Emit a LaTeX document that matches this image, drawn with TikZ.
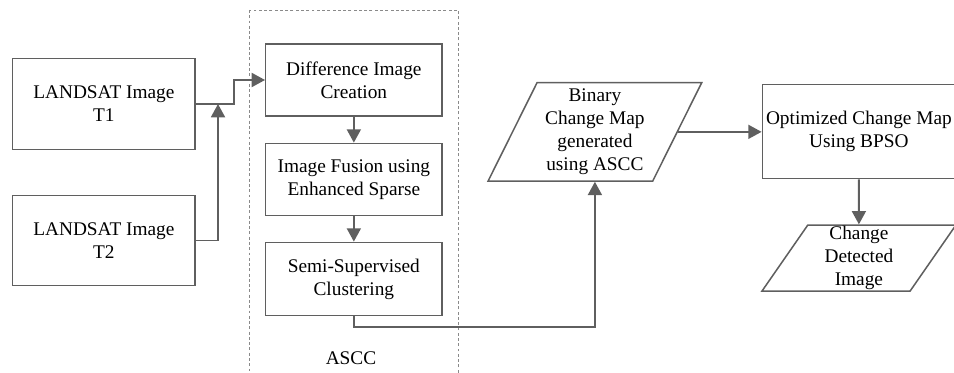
\documentclass[tikz,border=0pt]{standalone}
\usepackage{fontspec}
\setmainfont{Liberation Serif}
\usetikzlibrary{shapes.geometric, arrows.meta, positioning, calc}
\definecolor{FlowGray}{HTML}{5F5F5F}
\definecolor{FrameGray}{HTML}{8A8A8A}
\tikzset{
    % Same text for all nodes
    every node/.style={font=\fontsize{16.5}{19.6}\selectfont},
    % Input image box
    input/.style={
        rectangle,
        draw=FlowGray,
        line width=1.1pt,
        minimum width=5.47cm,
        minimum height=2.72cm,
        align=center,
        inner sep=1pt
    },
    % Process box style
    process/.style={
        rectangle,
        draw=FlowGray,
        line width=1.1pt,
        minimum width=5.29cm,
        minimum height=2.16cm,
        align=center,
        inner sep=1pt
    },
    % Data (parallelogram) style
    data/.style={
        trapezium,
        trapezium left angle=63.4,
        trapezium right angle=116.6,
        trapezium stretches=true,
        draw=FlowGray,
        line width=1.3pt,
        align=center,
        inner xsep=1pt,
        inner ysep=0pt
    },
    % Arrow style
    arrow/.style={
        -{Triangle[length=0.4cm, width=0.42cm]},
        line width=1.6pt,
        color=FlowGray
    },
    % Group frame
    group/.style={
        draw=FrameGray,
        dash pattern=on 2.5pt off 2pt,
        line width=0.7pt
    }
}

\begin{document}
\begin{tikzpicture}[x=0.03cm, y=-0.03cm]
        \useasboundingbox (0,0) rectangle (954,373);
        % ASCC frame
        \draw [group] (249.7,10) rectangle (458,385);
        \node (ascc) at (351,358) {ASCC};

        % Inputs
        \node (t1) [input] at (103.9,104) {LANDSAT Image\\T1};
        \node (t2) [input] at (103.9,240.5) {LANDSAT Image\\T2};

        % ASCC steps
        \node (diff) [process] at (353.85,80) {Difference Image\\Creation};
        \node (fusion) [process, below=0.78cm of diff] {Image Fusion using\\Enhanced Sparse};
        \node (semi) [process, below=0.77cm of fusion, minimum height=2.2cm] {Semi-Supervised\\Clustering};

        % Outputs
        \node (bcm) [data, minimum width=6.41cm, minimum height=2.95cm] at (594.9,131.85) {Binary\\Change Map\\generated\\using ASCC};
        \node (opt) [process, minimum width=5.8cm, minimum height=2.82cm] at (858.9,131.7) {Optimized Change Map\\Using BPSO};
        \node (chg) [data, below=1.35cm of opt, minimum width=5.82cm, minimum height=1.98cm] {Change\\Detected\\Image};

        \draw [arrow] (t1.east) -- ++(38.3,0) |- (diff.west);
        \draw [arrow] (t2.east) -| ($(t1.east)+(22.3,0)$);
        \draw [arrow] (diff) -- (fusion);
        \draw [arrow] (fusion) -- (semi);
        \draw [arrow] (semi.south) -- ++(0,11) -| (bcm.south);
        \draw [arrow] (bcm.east) -- (opt.west |- bcm.east);
        \draw [arrow] (opt) -- (chg);
    \end{tikzpicture}
\end{document}
